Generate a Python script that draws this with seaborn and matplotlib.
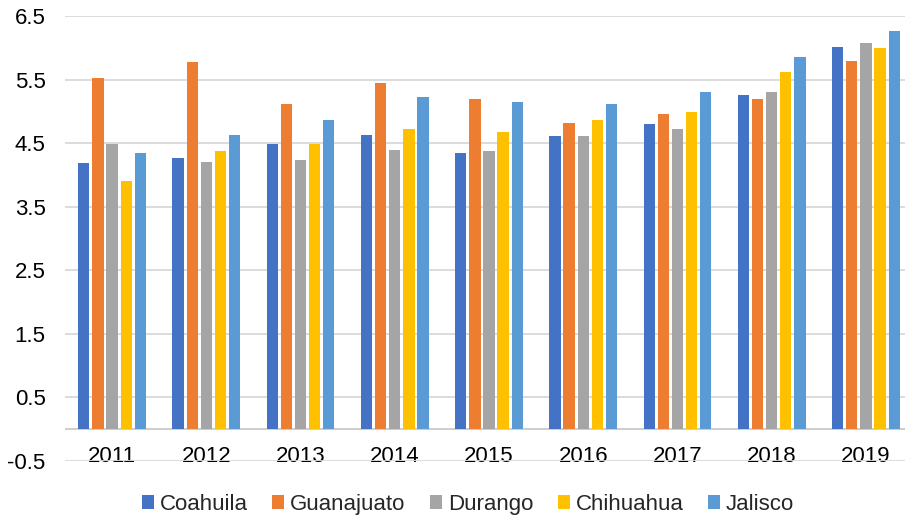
import matplotlib
matplotlib.use("Agg")
import matplotlib.pyplot as plt
from matplotlib.patches import Patch
import numpy as np
import pandas as pd
import seaborn as sns

years = ["2011", "2012", "2013", "2014", "2015", "2016", "2017", "2018", "2019"]
states = ["Coahuila", "Guanajuato", "Durango", "Chihuahua", "Jalisco"]
coahuila = [4.19, 4.27, 4.48, 4.63, 4.35, 4.61, 4.80, 5.25, 6.01]
guanajuato = [5.53, 5.77, 5.12, 5.44, 5.19, 4.81, 4.96, 5.19, 5.79]
durango = [4.48, 4.21, 4.23, 4.39, 4.38, 4.61, 4.72, 5.30, 6.08]
chihuahua = [3.91, 4.37, 4.48, 4.72, 4.68, 4.86, 4.99, 5.62, 6.00]
jalisco = [4.35, 4.63, 4.87, 5.23, 5.14, 5.12, 5.31, 5.86, 6.26]
yticks = [-0.5, 0.5, 1.5, 2.5, 3.5, 4.5, 5.5, 6.5]

colors = ["#4472C4", "#ED7D31", "#A5A5A5", "#FFC000", "#5B9BD5"]

series = [coahuila, guanajuato, durango, chihuahua, jalisco]
df = pd.DataFrame(
    [(y, s, v) for s, vals in zip(states, series) for y, v in zip(years, vals)],
    columns=["year", "state", "value"],
)

sns.set_theme(style="white")
plt.rcParams["font.family"] = ["Liberation Sans", "DejaVu Sans"]

fig = plt.figure(figsize=(9.05, 5.17), dpi=100)
ax = fig.add_axes([65 / 905, 1 - 461 / 517, (913 - 65) / 905, (461 - 16) / 517])

sns.barplot(
    data=df, x="year", y="value", hue="state", order=years, hue_order=states,
    palette=colors, width=0.75, gap=0.2, linewidth=0, saturation=1,
    errorbar=None, legend=False, ax=ax, zorder=3,
)

ax.set_xlim(-0.5, 8.5)
ax.set_ylim(-0.5, 6.5)
ax.set_yticks(yticks)
ax.set_yticklabels([f"{t:g}" for t in yticks])
ax.yaxis.grid(True, color="#D9D9D9", linewidth=1.3, zorder=0)
ax.set_axisbelow(True)
ax.axhline(0, color="#C9C9C9", linewidth=1.3, zorder=2)
for sp in ax.spines.values():
    sp.set_visible(False)

ax.set_xlabel("")
ax.set_ylabel("")
ax.tick_params(axis="both", length=0, labelsize=16, colors="black")
ax.tick_params(axis="y", pad=14)
ax.tick_params(axis="x", pad=-10.5)

handles = [Patch(facecolor=c, edgecolor="none", label=s) for c, s in zip(colors, states)]
fig.legend(
    handles=handles, loc="center", bbox_to_anchor=(0.517, 0.024), ncol=5,
    frameon=False, fontsize=16, handlelength=0.56, handleheight=0.56,
    handletextpad=0.25, columnspacing=1.1,
)

fig.savefig("out.png", dpi=100)
